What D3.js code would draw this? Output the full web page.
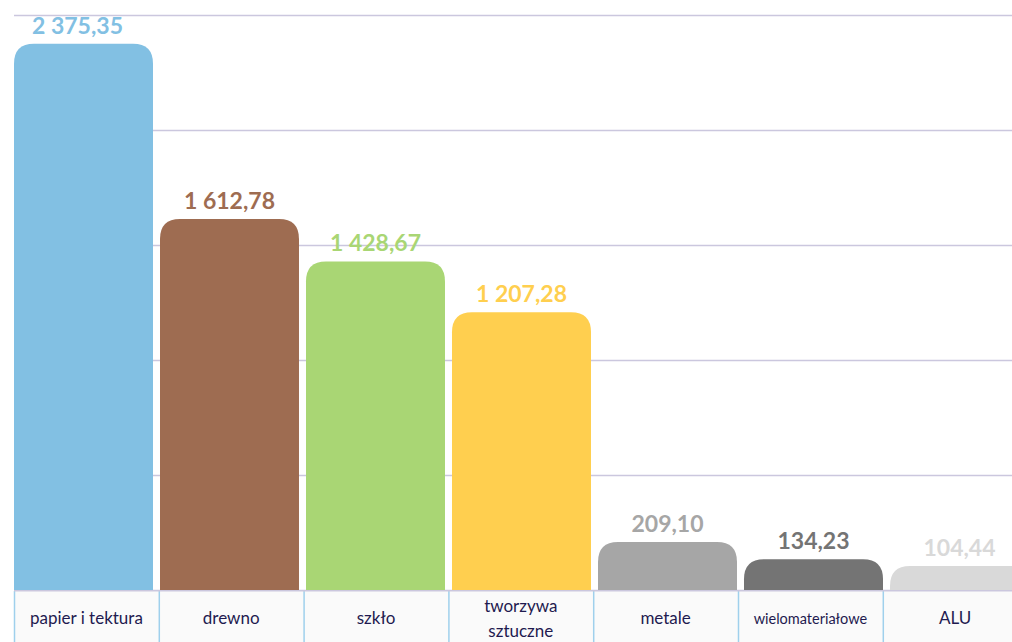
<!DOCTYPE html>
<html lang="pl">
<head>
<meta charset="UTF-8">
<title>Odpady opakowaniowe</title>
<script src="https://d3js.org/d3.v7.min.js"></script>
<style>
  body { margin: 0; background: #fff; }
  svg { display: block; }
  text { font-family: Lato, "Open Sans", sans-serif; }
  .grid line { stroke: #cbc7de; stroke-width: 1.3; }
  .value { font-weight: bold; font-size: 23px; text-anchor: middle; }
  .cat { font-size: 17px; fill: #1f1a50; text-anchor: middle; }
</style>
</head>
<body>
<svg width="1012" height="642"></svg>
<script>
  // data
  const categories = ["papier i tektura", "drewno", "szkło", "tworzywa sztuczne", "metale", "wielomateriałowe", "ALU"];
  const values = [2375.35, 1612.78, 1428.67, 1207.28, 209.10, 134.23, 104.44];
  const colors = ["#82c0e3", "#9e6c51", "#a9d674", "#ffcf4f", "#a6a6a6", "#747474", "#d9d9d9"];
  const gridTicks = [0, 500, 1000, 1500, 2000, 2500];

  const svg = d3.select("svg");
  const baseY = 590;

  const y = d3.scaleLinear().domain([0, 2500]).range([baseY, 15]);
  const x = d3.scaleBand().domain(categories).range([14, 1029]).paddingInner(0.048).paddingOuter(0);
  // table cells below the bars are a touch narrower than the bar step
  const cell = d3.scaleBand().domain(categories).range([14, 14 + 7 * 144.8]);

  const fmt = v => v.toFixed(2).replace(".", ",").replace(/\B(?=(\d{3})+(?!\d))/g, " ");

  // gridlines
  svg.append("g").attr("class", "grid")
    .selectAll("line").data(gridTicks).join("line")
    .attr("x1", 14).attr("x2", 1012)
    .attr("y1", d => Math.round(y(d)) + 0.5).attr("y2", d => Math.round(y(d)) + 0.5);

  // bars with rounded top corners
  const r = 20;
  function barPath(x0, w, top, bottom) {
    const rr = Math.min(r, (bottom - top), w / 2);
    return `M${x0},${bottom} V${top + rr} Q${x0},${top} ${x0 + rr},${top} H${x0 + w - rr} Q${x0 + w},${top} ${x0 + w},${top + rr} V${bottom} Z`;
  }

  svg.append("g").selectAll("path").data(categories).join("path")
    .attr("d", (c, i) => barPath(x(c), x.bandwidth(), y(values[i]), baseY))
    .attr("fill", (c, i) => colors[i]);

  svg.append("g").selectAll("text").data(categories).join("text")
    .attr("class", "value")
    .attr("x", (c, i) => x(c) + x.bandwidth() / 2 - (i === 0 ? 6 : 0))
    .attr("y", (c, i) => y(values[i]) - 10)
    .attr("fill", (c, i) => colors[i])
    .text((c, i) => fmt(values[i]));

  // category table
  const tab = svg.append("g");
  tab.append("rect").attr("x", 14).attr("y", baseY + 1).attr("width", 1012 - 14).attr("height", 60)
    .attr("fill", "#fafafa");
  tab.selectAll("line.div").data(categories).join("line")
    .attr("class", "div")
    .attr("x1", c => cell(c) + 0.5).attr("x2", c => cell(c) + 0.5)
    .attr("y1", baseY + 1).attr("y2", 642)
    .attr("stroke", "#9fd0ec").attr("stroke-width", 1.5);
  tab.append("line").attr("x1", 14).attr("x2", 1012).attr("y1", baseY + 1).attr("y2", baseY + 1)
    .attr("stroke", "#cbc7de").attr("stroke-width", 1);

  tab.selectAll("text").data(categories).join("text")
    .attr("class", "cat")
    .attr("x", c => cell(c) + cell.bandwidth() / 2)
    .attr("y", 624)
    .style("font-size", c => c === "wielomateriałowe" ? "14.5px" : "17px")
    .each(function(c) {
      const t = d3.select(this);
      if (c === "tworzywa sztuczne") {
        t.attr("y", 612);
        t.append("tspan").attr("x", cell(c) + cell.bandwidth() / 2).text("tworzywa");
        t.append("tspan").attr("x", cell(c) + cell.bandwidth() / 2).attr("dy", 25).text("sztuczne");
      } else {
        t.text(c);
      }
    });
</script>
</body>
</html>
